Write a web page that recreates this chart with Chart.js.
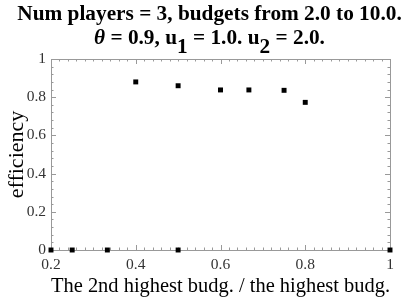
<!DOCTYPE html>
<html>
<head>
<meta charset="utf-8">
<script src="https://cdn.jsdelivr.net/npm/chart.js@4"></script>
<style>
  body { margin: 0; background: #fff; }
  #wrap { position: relative; width: 419px; height: 300px; }
  #title {
    position: absolute; left: 0; top: 1px; width: 419px;
    text-align: center; font-family: "Liberation Serif", serif;
    font-weight: bold; font-size: 21.3px; line-height: 24px; color: #000;
  }
  #title sub { font-size: 21.3px; vertical-align: -9px; line-height: 0; }
  #title i { font-weight: bold; }
</style>
</head>
<body>
<div id="wrap">
  <canvas id="chart"></canvas>
  <div id="title">
    Num players = 3, budgets from 2.0 to 10.0.<br>
    <i>θ</i> = 0.9, u<sub>1</sub> = 1.0. u<sub>2</sub> = 2.0.
  </div>
</div>
<script>
    // ratio of 2nd highest budget to highest, and efficiency
    const ratios = [0.2, 0.25, 0.333, 0.4, 0.5, 0.5, 0.6, 0.667, 0.75, 0.8, 1.0];
    const efficiency = [0, 0, 0, 0.88, 0.86, 0, 0.838, 0.838, 0.836, 0.773, 0];
    const x_ticks = [0.2, 0.4, 0.6, 0.8, 1];
    const y_ticks = [0, 0.2, 0.4, 0.6, 0.8, 1];

    const frameColor = '#999999';

    function fmt(v) {
        return Number(v.toFixed(1)).toString();
    }

    // Mathematica-like frame with inward ticks on all four sides
    const frameTicks = {
        id: 'frameTicks',
        beforeDatasetsDraw(chart) {
            const ctx = chart.ctx;
            const a = chart.chartArea;
            const xs = chart.scales.x;
            const ys = chart.scales.y;
            ctx.save();
            ctx.strokeStyle = frameColor;
            ctx.lineWidth = 1;
            ctx.strokeRect(a.left + 0.5, a.top + 0.5, a.right - a.left, a.bottom - a.top);
            ctx.beginPath();
            for (let i = 0; i <= 40; i++) {
                const v = 0.2 + i * 0.02;
                const major = x_ticks.some(t => Math.abs(t - v) < 1e-6);
                const len = major ? 5 : 2.5;
                const px = Math.round(xs.getPixelForValue(v)) + 0.5;
                ctx.moveTo(px, a.bottom); ctx.lineTo(px, a.bottom - len);
                ctx.moveTo(px, a.top); ctx.lineTo(px, a.top + len);
            }
            for (let i = 0; i <= 25; i++) {
                const v = i * 0.04;
                const major = y_ticks.some(t => Math.abs(t - v) < 1e-6);
                const len = major ? 5 : 2.5;
                const py = Math.round(ys.getPixelForValue(v)) + 0.5;
                ctx.moveTo(a.left, py); ctx.lineTo(a.left + len, py);
                ctx.moveTo(a.right, py); ctx.lineTo(a.right - len, py);
            }
            ctx.stroke();
            ctx.restore();
        }
    };

    const ctx = document.getElementById('chart');
    new Chart(ctx, {
        type: 'scatter',
        data: {
            datasets: [{
                label: 'efficiency',
                data: ratios.map((r, i) => ({ x: r, y: efficiency[i] })),
                backgroundColor: '#000000',
                borderColor: '#000000',
                borderWidth: 0,
                pointStyle: 'rect',
                pointRadius: 3.5,
                pointHoverRadius: 3.5,
                clip: false
            }]
        },
        options: {
            responsive: true,
            maintainAspectRatio: false,
            animation: false,
            layout: { padding: { top: 59, right: 29, left: 0, bottom: 0 } },
            plugins: {
                legend: { display: false },
                tooltip: { enabled: false }
            },
            scales: {
                x: {
                    type: 'linear',
                    min: 0.2,
                    max: 1,
                    afterBuildTicks: s => { s.ticks = x_ticks.map(v => ({ value: v })); },
                    afterFit: s => { s.height = 50; },
                    grid: { display: false, drawTicks: false },
                    border: { display: false },
                    ticks: {
                        padding: 6,
                        color: '#333333',
                        font: { family: 'Liberation Serif', size: 15.5 },
                        maxRotation: 0,
                        callback: fmt
                    },
                    title: {
                        display: true,
                        text: 'The 2nd highest budg. / the highest budg.',
                        color: '#000000',
                        font: { family: 'Liberation Serif', size: 21.5 },
                        padding: { top: 0, bottom: 1 }
                    }
                },
                y: {
                    type: 'linear',
                    min: 0,
                    max: 1,
                    afterBuildTicks: s => { s.ticks = y_ticks.map(v => ({ value: v })); },
                    afterFit: s => { s.width = 51; },
                    grid: { display: false, drawTicks: false },
                    border: { display: false },
                    ticks: {
                        padding: 5,
                        color: '#333333',
                        font: { family: 'Liberation Serif', size: 15.5 },
                        callback: fmt
                    },
                    title: {
                        display: true,
                        text: 'efficiency',
                        color: '#000000',
                        font: { family: 'Liberation Serif', size: 22 },
                        padding: { top: 4, bottom: 0 }
                    }
                }
            }
        },
        plugins: [frameTicks]
    });
</script>
</body>
</html>
